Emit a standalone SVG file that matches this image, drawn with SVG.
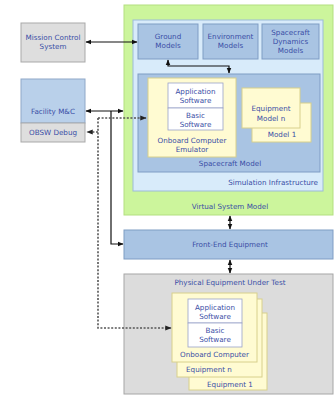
<svg xmlns="http://www.w3.org/2000/svg" width="336" height="396" viewBox="0 0 336 396">
<defs>
<style>
text{font-family:"DejaVu Sans",Verdana,sans-serif;font-size:7.2px;fill:#3a4ea6;text-anchor:middle}
.gray{fill:#dedede;stroke:#a9a9a9;stroke-width:1}
.blue{fill:#a9c4e3;stroke:#7f9dc4;stroke-width:1}
.lblue{fill:#d8ebfa;stroke:#9cbbd8;stroke-width:1}
.green{fill:#ccf59c;stroke:#b3df80;stroke-width:1}
.yellow{fill:#fffbd2;stroke:#d8d08c;stroke-width:1}
.white{fill:#ffffff;stroke:#9aa2c8;stroke-width:0.8}
.fm{fill:#b9d0ea;stroke:#8fa8c8;stroke-width:1}
.pgray{fill:#dcdcdc;stroke:#a6a6a6;stroke-width:1}
.solid{fill:none;stroke:#111;stroke-width:1.2}
.dash{fill:none;stroke:#555;stroke-width:1.6;stroke-dasharray:2,1.6}
</style>
<marker id="ah" viewBox="0 0 10 10" refX="9" refY="5" markerWidth="5" markerHeight="5" orient="auto-start-reverse"><path d="M0,1 L10,5 L0,9 z" fill="#111"/></marker>
<marker id="ahd" viewBox="0 0 10 10" refX="9" refY="5" markerWidth="4" markerHeight="4" orient="auto-start-reverse"><path d="M0,1 L10,5 L0,9 z" fill="#222"/></marker>
</defs>

<g id="mission-control">
<rect class="gray" x="21" y="23" width="64" height="39"/>
<text x="53" y="40">Mission Control</text>
<text x="53" y="49">System</text>
</g>

<g id="facility-mc">
<rect class="fm" x="21" y="79" width="64" height="44"/>
<text x="53" y="114">Facility M&amp;C</text>
</g>
<g id="obsw-debug">
<rect class="gray" x="21" y="123" width="64" height="19"/>
<text x="53" y="135">OBSW Debug</text>
</g>

<g id="virtual-system-model">
<rect class="green" x="124" y="5" width="209" height="210"/>
<text x="230" y="209">Virtual System Model</text>
</g>

<g id="simulation-infrastructure">
<rect class="lblue" x="133" y="20" width="190" height="171"/>
<text x="318" y="185" style="text-anchor:end">Simulation Infrastructure</text>
</g>

<g id="ground-models">
<rect class="blue" x="138" y="24" width="60" height="35"/>
<text x="168" y="39">Ground</text>
<text x="168" y="48">Models</text>
</g>
<g id="environment-models">
<rect class="blue" x="203" y="24" width="55" height="35"/>
<text x="230.5" y="39">Environment</text>
<text x="230.5" y="48">Models</text>
</g>
<g id="spacecraft-dynamics-models">
<rect class="blue" x="262" y="24" width="57" height="35"/>
<text x="290.5" y="35">Spacecraft</text>
<text x="290.5" y="44">Dynamics</text>
<text x="290.5" y="53">Models</text>
</g>

<g id="spacecraft-model">
<rect class="blue" x="138" y="74" width="182" height="98"/>
<text x="230" y="166">Spacecraft Model</text>
</g>

<g id="onboard-computer-emulator">
<rect class="yellow" x="148" y="78" width="88" height="79"/>
<rect class="white" x="168" y="83" width="55" height="25"/>
<text x="195.5" y="94">Application</text>
<text x="195.5" y="103">Software</text>
<rect class="white" x="168" y="108" width="55" height="22"/>
<text x="195.5" y="118">Basic</text>
<text x="195.5" y="127">Software</text>
<text x="192" y="143">Onboard Computer</text>
<text x="192" y="152">Emulator</text>
</g>

<g id="equipment-model-1">
<rect class="yellow" x="252" y="103" width="59" height="39"/>
<text x="282" y="137">Model 1</text>
</g>
<g id="equipment-model-n">
<rect class="yellow" x="242" y="88" width="58" height="40"/>
<text x="271" y="111">Equipment</text>
<text x="271" y="121">Model n</text>
</g>

<g id="front-end-equipment">
<rect class="blue" x="124" y="230" width="209" height="29"/>
<text x="230" y="247">Front-End Equipment</text>
</g>

<g id="physical-equipment-under-test">
<rect class="pgray" x="124" y="274" width="209" height="120"/>
<text x="230" y="285">Physical Equipment Under Test</text>
</g>

<g id="equipment-1">
<rect class="yellow" x="189" y="313" width="78" height="77"/>
<text x="230" y="387">Equipment 1</text>
</g>
<g id="equipment-n">
<rect class="yellow" x="177" y="299" width="85" height="78"/>
<text x="209" y="372">Equipment n</text>
</g>
<g id="onboard-computer">
<rect class="yellow" x="172" y="293" width="85" height="69"/>
<rect class="white" x="188" y="299" width="54" height="24"/>
<text x="215" y="310">Application</text>
<text x="215" y="319">Software</text>
<rect class="white" x="188" y="323" width="54" height="24"/>
<text x="215" y="333">Basic</text>
<text x="215" y="342">Software</text>
<text x="214.5" y="357">Onboard Computer</text>
</g>

<g id="connectors">
<path class="solid" d="M86,42 L137,42" marker-start="url(#ah)" marker-end="url(#ah)"/>
<path class="solid" d="M168,60 L168,66 L229,66 L229,73" marker-start="url(#ah)" marker-end="url(#ah)"/>
<path class="solid" d="M86,111 L123,111" marker-start="url(#ah)" marker-end="url(#ah)"/>
<path class="solid" d="M111,111 L111,244 L123,244" marker-end="url(#ah)"/>
<path class="solid" d="M230,216 L230,229" marker-start="url(#ah)" marker-end="url(#ah)"/>
<path class="solid" d="M230,260 L230,273" marker-start="url(#ah)" marker-end="url(#ah)"/>
<path class="dash" d="M98,118 L146,118" marker-end="url(#ahd)"/>
<path class="dash" d="M98,118 L98,328 L171,328" marker-end="url(#ahd)"/>
<path class="dash" d="M98,132 L87,132" marker-end="url(#ahd)"/>
</g>
</svg>
